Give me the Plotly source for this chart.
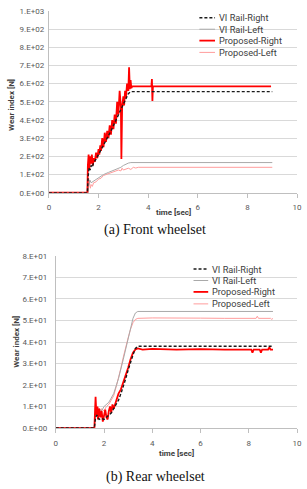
import plotly.graph_objects as go

# ---------------- data: (a) front wheelset ----------------
front_vi_right_t = [0, 1.55, 1.58, 1.62, 1.66, 1.7, 1.75, 1.8, 1.9, 2.0, 2.1, 2.2, 2.3, 2.4, 2.5, 2.6, 2.7, 2.8, 2.9, 3.0, 3.1, 3.2, 3.3, 9.0]
front_vi_right_y = [0, 0, 90, 140, 125, 150, 140, 165, 185, 210, 235, 260, 290, 310, 340, 370, 400, 430, 460, 490, 520, 545, 556, 556]

front_vi_left_t = [0, 1.58, 1.6, 1.65, 1.7, 1.8, 1.9, 2.0, 2.2, 2.4, 2.6, 2.8, 2.9, 3.0, 3.1, 3.2, 3.3, 9.0]
front_vi_left_y = [0, 0, 40, 70, 55, 65, 75, 85, 100, 112, 122, 135, 140, 150, 158, 163, 166, 166]

front_prop_right_t = [0, 1.55, 1.57, 1.6, 1.63, 1.66, 1.7, 1.73, 1.77, 1.8, 1.85, 1.9, 1.95, 2.0, 2.03, 2.07, 2.1, 2.15, 2.2, 2.25,
                      2.3, 2.35, 2.4, 2.45, 2.5, 2.55, 2.6, 2.65, 2.7, 2.75, 2.8, 2.85, 2.9, 2.92, 2.95, 3.0, 3.03, 3.07,
                      3.1, 3.15, 3.2, 3.23, 3.26, 3.29, 3.32, 3.36, 4.13, 4.15, 4.17, 4.19, 8.95]
front_prop_right_y = [0, 0, 150, 210, 130, 200, 160, 210, 150, 190, 170, 220, 190, 240, 210, 260, 230, 300, 250, 330,
                      280, 340, 300, 370, 320, 400, 350, 430, 380, 500, 430, 560, 470, 185, 470, 530, 480, 560,
                      520, 600, 560, 690, 570, 620, 575, 585, 585, 625, 505, 585, 585]

front_prop_left_t = [0, 1.58, 1.6, 1.63, 1.67, 1.7, 1.75, 1.8, 1.9, 2.0, 2.1, 2.2, 2.3, 2.4, 2.5, 2.6, 2.7, 2.8, 2.9, 2.95, 3.0,
                     3.1, 3.2, 3.3, 3.4, 3.5, 3.6, 9.0]
front_prop_left_y = [0, 0, 80, 40, 25, 45, 35, 55, 60, 75, 80, 95, 100, 105, 110, 112, 118, 125, 120, 135, 125,
                     130, 135, 128, 140, 136, 140, 140]

# ---------------- data: (b) rear wheelset ----------------
rear_vi_right_t = [0, 1.6, 1.65, 1.7, 1.8, 1.9, 2.0, 2.1, 2.2, 2.3, 2.4, 2.5, 2.6, 2.7, 2.8, 2.9, 3.0, 3.1, 3.2, 3.3, 3.4, 9.0]
rear_vi_right_y = [0, 0, 5, 6, 4, 4.5, 4, 5, 6, 7, 9, 11, 13, 16, 19, 23, 27, 31, 34, 37, 38, 38]

rear_vi_left_t = [0, 1.6, 1.65, 1.7, 1.8, 1.9, 2.0, 2.2, 2.4, 2.6, 2.8, 2.9, 3.0, 3.1, 3.2, 3.3, 3.4, 9.0]
rear_vi_left_y = [0, 0, 11, 8, 9, 8, 10, 12, 16, 23, 32, 37, 42, 47, 51, 53.5, 54.2, 54.2]

rear_prop_right_t = [0, 1.6, 1.63, 1.65, 1.68, 1.72, 1.75, 1.8, 1.85, 1.9, 1.95, 2.0, 2.05, 2.1, 2.15, 2.2, 2.25, 2.3, 2.35,
                     2.4, 2.5, 2.6, 2.7, 2.8, 2.9, 3.0, 3.1, 3.2, 3.3, 3.4, 3.6, 4.0, 5.0, 6.0, 7.0, 8.0, 8.1, 8.15,
                     8.2, 8.45, 8.5, 8.55, 8.8, 8.85, 8.9, 9.0]
rear_prop_right_y = [0, 0, 8, 14.5, 6, 10, 4, 9, 5, 8, 3, 6, 8.5, 5, 4, 8, 10, 7, 11,
                     9, 13, 16, 18, 21, 25, 28, 32, 35, 36.5, 37, 36.5, 36.8, 36.5, 36.7, 36.5, 36.6, 36.5, 35,
                     36.5, 36.5, 35, 36.5, 36.5, 37.5, 36.5, 36.5]

rear_prop_left_t = [0, 1.6, 1.65, 1.7, 1.75, 1.8, 1.9, 2.0, 2.1, 2.2, 2.3, 2.4, 2.5, 2.6, 2.7, 2.8, 2.9, 3.0, 3.1, 3.2, 3.3,
                    3.4, 4.0, 5.0, 6.0, 7.0, 8.3, 8.35, 8.4, 8.9, 8.95, 9.0]
rear_prop_left_y = [0, 0, 13, 7, 10, 6, 9, 8, 10, 11, 13, 15, 19, 23, 28, 33, 38, 42, 46, 49, 50.5,
                    51, 51.2, 51, 51.1, 51, 51, 52, 51, 51, 50.5, 51]

# ---------------- tick labels ----------------
x_ticks = [0, 2, 4, 6, 8, 10]
front_y_ticks = [0, 100, 200, 300, 400, 500, 600, 700, 800, 900, 1000]
front_y_labels = ["0.E+00", "1.E+02", "2.E+02", "3.E+02", "4.E+02", "5.E+02", "6.E+02", "7.E+02", "8.E+02", "9.E+02", "1.E+03"]
rear_y_ticks = [0, 10, 20, 30, 40, 50, 60, 70, 80]
rear_y_labels = ["0.E+00", "1.E+01", "2.E+01", "3.E+01", "4.E+01", "5.E+01", "6.E+01", "7.E+01", "8.E+01"]

series_names = ["VI Rail-Right", "VI Rail-Left", "Proposed-Right", "Proposed-Left"]
styles = {
    "VI Rail-Right": dict(color="#1a1a1a", width=1.4, dash="3px,2px"),
    "VI Rail-Left": dict(color="#a9a9a9", width=1, dash="solid"),
    "Proposed-Right": dict(color="#ff0000", width=1.8, dash="solid"),
    "Proposed-Left": dict(color="#ff9c9c", width=1, dash="solid"),
}

W, H = 307, 489
fig = go.Figure()

front = {
    "VI Rail-Right": (front_vi_right_t, front_vi_right_y),
    "VI Rail-Left": (front_vi_left_t, front_vi_left_y),
    "Proposed-Right": (front_prop_right_t, front_prop_right_y),
    "Proposed-Left": (front_prop_left_t, front_prop_left_y),
}
rear = {
    "VI Rail-Right": (rear_vi_right_t, rear_vi_right_y),
    "VI Rail-Left": (rear_vi_left_t, rear_vi_left_y),
    "Proposed-Right": (rear_prop_right_t, rear_prop_right_y),
    "Proposed-Left": (rear_prop_left_t, rear_prop_left_y),
}
draw_order = ["Proposed-Left", "VI Rail-Left", "Proposed-Right", "VI Rail-Right"]
for name in draw_order:
    t, y = front[name]
    fig.add_trace(go.Scatter(x=t, y=y, mode="lines", name=name, line=styles[name],
                             xaxis="x", yaxis="y", showlegend=False))
for name in draw_order:
    t, y = rear[name]
    fig.add_trace(go.Scatter(x=t, y=y, mode="lines", name=name, line=styles[name],
                             xaxis="x2", yaxis="y2", showlegend=False))

def px(x):
    return x / W

def py(y):
    return 1 - y / H

tick_font = dict(family="Roboto", size=8, color="#595959")
grid = "#d9d9d9"
common_x = dict(range=[0, 10], tickvals=x_ticks, ticks="outside", ticklen=4, tickcolor="#bfbfbf",
                showline=True, linecolor="#bfbfbf", showgrid=False, zeroline=False, tickfont=tick_font,
                fixedrange=True, ticklabelstandoff=3)
fig.update_layout(
    width=W, height=H, margin=dict(l=0, r=0, t=0, b=0),
    paper_bgcolor="white", plot_bgcolor="white",
    xaxis=dict(domain=[px(48), px(302)], anchor="y", **common_x),
    yaxis=dict(domain=[py(192.3), py(7)], anchor="x", range=[0, 1000], tickvals=front_y_ticks,
               ticktext=front_y_labels, showgrid=True, gridcolor=grid, showline=True, linecolor="#bfbfbf",
               zeroline=False, ticks="", tickfont=tick_font, ticklabelstandoff=2),
    xaxis2=dict(domain=[px(55), px(302)], anchor="y2", **common_x),
    yaxis2=dict(domain=[py(432), py(256.7)], anchor="x2", range=[0, 80], tickvals=rear_y_ticks,
                ticktext=rear_y_labels, showgrid=True, gridcolor=grid, showline=True, linecolor="#bfbfbf",
                zeroline=False, ticks="", tickfont=tick_font, ticklabelstandoff=6),
    showlegend=False,
)

ann = []

def add_text(text, x, y, font, xanchor="center", angle=0):
    ann.append(dict(text=text, x=px(x), y=py(y), xref="paper", yref="paper", xanchor=xanchor,
                    yanchor="middle", textangle=angle, showarrow=False, font=font))

title_font = dict(family="Roboto", size=8, color="#404040")
add_text("<b>Wear index [N]</b>", 9, 103, title_font, angle=-90)
add_text("<b>Wear index [N]</b>", 15, 344.5, title_font, angle=-90)
add_text("<b>time [sec]</b>", 175, 212, title_font)
add_text("<b>time [sec]</b>", 178.5, 457.5, title_font)
cap_font = dict(family="Liberation Serif", size=14, color="#111111")
add_text("(a) Front wheelset", 157, 230, cap_font)
add_text("(b) Rear wheelset", 157, 482, cap_font)

shapes = []
leg_font = dict(family="Roboto", size=9.2, color="#404040")
legends = [((202, 218, 220), [14, 25.7, 37.3, 49.3]), ((196, 211, 213), [270, 281.7, 293.3, 305.5])]
for (x0, x1, xt), rows in legends:
    for name, ry in zip(series_names, rows):
        st = styles[name]
        shapes.append(dict(type="line", xref="paper", yref="paper", x0=px(x0), x1=px(x1), y0=py(ry), y1=py(ry),
                           line=dict(color=st["color"], width=st["width"], dash=st["dash"])))
        add_text(name, xt, ry, leg_font, xanchor="left")

fig.update_layout(annotations=ann, shapes=shapes)
fig.write_html("out.html")
